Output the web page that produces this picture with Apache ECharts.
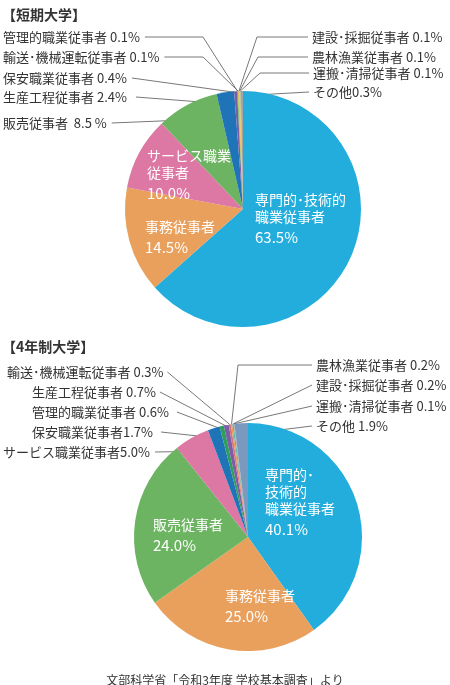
<!DOCTYPE html>
<html>
<head>
<meta charset="utf-8">
<script src="https://cdn.jsdelivr.net/npm/echarts@6/dist/echarts.min.js"></script>
<style>
  html, body { margin: 0; padding: 0; background: #fff; }
  #main { width: 450px; height: 685px; }
</style>
</head>
<body>
<div id="main"></div>
<script>
// 短期大学
const tankiNames = ['専門的・技術的職業従事者', '事務従事者', 'サービス職業従事者', '販売従事者', '生産工程従事者', '保安職業従事者',
  '管理的職業従事者', '輸送・機械運転従事者', '建設・採掘従事者', '農林漁業従事者', '運搬・清掃従事者', 'その他']
const tankiValues = [63.5, 14.5, 10.0, 8.5, 2.4, 0.4, 0.1, 0.1, 0.1, 0.1, 0.1, 0.3]

// 4年制大学
const yonenNames = ['専門的・技術的職業従事者', '事務従事者', '販売従事者', 'サービス職業従事者', '保安職業従事者', '管理的職業従事者',
  '生産工程従事者', '輸送・機械運転従事者', '農林漁業従事者', '建設・採掘従事者', '運搬・清掃従事者', 'その他']
const yonenValues = [40.1, 25.0, 24.0, 5.0, 1.7, 0.6, 0.7, 0.3, 0.2, 0.2, 0.1, 1.9]

const colorOf = {
  '専門的・技術的職業従事者': '#22addd',
  '事務従事者': '#e9a05c',
  'サービス職業従事者': '#dd77a3',
  '販売従事者': '#6cb462',
  '生産工程従事者': '#1f74b7',
  '保安職業従事者': '#7a5ea8',
  '管理的職業従事者': '#3aa560',
  '輸送・機械運転従事者': '#b9c63a',
  '建設・採掘従事者': '#ef9a35',
  '農林漁業従事者': '#e9c43a',
  '運搬・清掃従事者': '#9bb59a',
  'その他': '#a3a3a3'
}
const colorOf4 = Object.assign({}, colorOf, {
  '管理的職業従事者': '#2f9e5a',
  '生産工程従事者': '#7a5ea8',
  '保安職業従事者': '#1f74b7',
  '輸送・機械運転従事者': '#d9727e',
  '農林漁業従事者': '#ef9a50',
  '建設・採掘従事者': '#5bb8a8',
  '運搬・清掃従事者': '#a8a8a8',
  'その他': '#7b98be'
})

// label layout: inside labels (lines) or outside labels with guide lines
const tankiLayout = [
  { lines: ['専門的･技術的', '職業従事者'], x: 255, y: 191.5 },
  { lines: ['事務従事者'], x: 145, y: 218.5 },
  { lines: ['サービス職業', '従事者'], x: 147, y: 147.5 },
  { text: '販売従事者  8.5 %', x: 3, y: 123, side: 'left', f: 0.86 },
  { text: '生産工程従事者 2.4%', x: 3, y: 97, side: 'left', f: 0.9, gap: 9 },
  { text: '保安職業従事者 0.4%', x: 3, y: 78, side: 'left', f: 0.99 },
  { text: '管理的職業従事者 0.1%', x: 3, y: 37, side: 'left', f: 1.0, elbow: [203, 37] },
  { text: '輸送･機械運転従事者 0.1%', x: 3, y: 57, side: 'left', f: 1.0, elbow: [203, 57] },
  { text: '建設･採掘従事者 0.1%', x: 312, y: 37, side: 'right', f: 1.0, elbow: [257, 37] },
  { text: '農林漁業従事者 0.1%', x: 312, y: 57, side: 'right', f: 1.0, elbow: [258, 57] },
  { text: '運搬･清掃従事者 0.1%', x: 313, y: 73, side: 'right', f: 1.0, elbow: [260, 73] },
  { text: 'その他0.3%', x: 313, y: 92, side: 'right', f: 0.96 }
]
const yonenLayout = [
  { lines: ['専門的･', '技術的', '職業従事者'], x: 265, y: 466.5 },
  { lines: ['事務従事者'], x: 225, y: 587.5 },
  { lines: ['販売従事者'], x: 153, y: 516.5 },
  { text: 'サービス職業従事者5.0%', x: 3, y: 452, side: 'left', f: 0.82, t: 0.85 },
  { text: '保安職業従事者1.7%', x: 32, y: 432, side: 'left', f: 0.91, gap: 8 },
  { text: '管理的職業従事者 0.6%', x: 32, y: 412, side: 'left', f: 0.97, gap: 8 },
  { text: '生産工程従事者 0.7%', x: 32, y: 392, side: 'left', f: 0.99, gap: 4 },
  { text: '輸送･機械運転従事者 0.3%', x: 7, y: 372, side: 'left', f: 1.0, gap: 4 },
  { text: '農林漁業従事者 0.2%', x: 316, y: 365, side: 'right', f: 1.0, elbow: [238, 365] },
  { text: '建設･採掘従事者 0.2%', x: 316, y: 385, side: 'right', f: 1.0 },
  { text: '運搬･清掃従事者 0.1%', x: 316, y: 406, side: 'right', f: 1.0 },
  { text: 'その他 1.9%', x: 316, y: 426, side: 'right', f: 0.9 }
]

const FONT = '"Noto Sans CJK JP", "Noto Sans", sans-serif'

function makeSeries(names, values, colors, layout, center, radius) {
  const total = values.reduce((a, b) => a + b, 0)
  const starts = []
  let acc = 0
  values.forEach(v => { starts.push(acc / total * 360); acc += v })

  const data = names.map((name, i) => {
    const L = layout[i]
    const item = { name, value: values[i], itemStyle: { color: colors[name] } }
    if (L.lines) {
      const txt = L.lines.map(s => '{n|' + s + '}').join('\n') + '\n{p|' + values[i].toFixed(1) + '%}'
      item.label = { position: 'inside', formatter: txt, color: '#fff' }
      item.labelLine = { show: false }
    } else {
      item.label = { position: 'outside', formatter: L.text, color: '#333', fontSize: 13 }
      item.labelLine = { show: true }
    }
    return item
  })

  return {
    type: 'pie',
    center,
    radius,
    startAngle: 90,
    clockwise: true,
    avoidLabelOverlap: false,
    animation: false,
    silent: true,
    itemStyle: { borderWidth: 0 },
    label: {
      fontFamily: FONT,
      rich: {
        n: { fontSize: 14, lineHeight: 17, color: '#fff', fontFamily: FONT },
        p: { fontSize: 15, lineHeight: 23, color: '#fff', fontFamily: FONT }
      }
    },
    labelLine: { lineStyle: { color: '#555', width: 0.8 } },
    data,
    labelLayout: (params) => {
      const L = layout[params.dataIndex]
      if (L.lines) {
        return { x: L.x, y: L.y, align: 'left', verticalAlign: 'top' }
      }
      const i = params.dataIndex
      const t = L.t == null ? 0.5 : L.t
      const ang = (starts[i] + t * values[i] / total * 360) * Math.PI / 180
      const r = radius * L.f
      const anchor = [center[0] + r * Math.sin(ang), center[1] - r * Math.cos(ang)]
      const gap = L.gap == null ? 5 : L.gap
      const end = L.side === 'left' ? [L.x + params.labelRect.width + gap, L.y] : [L.x - 4, L.y]
      const pts = L.elbow ? [anchor, L.elbow, end] : [anchor, end]
      return { x: L.x, y: L.y, align: 'left', verticalAlign: 'middle', labelLinePoints: pts }
    }
  }
}

const chart = echarts.init(document.getElementById('main'))
chart.setOption({
  backgroundColor: '#fff',
  title: [
    { text: '【短期大学】', left: -3, top: 3, textStyle: { fontSize: 14, fontWeight: 'bold', color: '#333', fontFamily: FONT } },
    { text: '【4年制大学】', left: -3, top: 335, textStyle: { fontSize: 14, fontWeight: 'bold', color: '#333', fontFamily: FONT } },
    { text: '文部科学省「令和3年度 学校基本調査」より', left: 'center', top: 669, textStyle: { fontSize: 12, fontWeight: 'normal', color: '#333', fontFamily: FONT } }
  ],
  series: [
    makeSeries(tankiNames, tankiValues, colorOf, tankiLayout, [243, 209], 118),
    makeSeries(yonenNames, yonenValues, colorOf4, yonenLayout, [248, 537], 114)
  ]
})
</script>
</body>
</html>
